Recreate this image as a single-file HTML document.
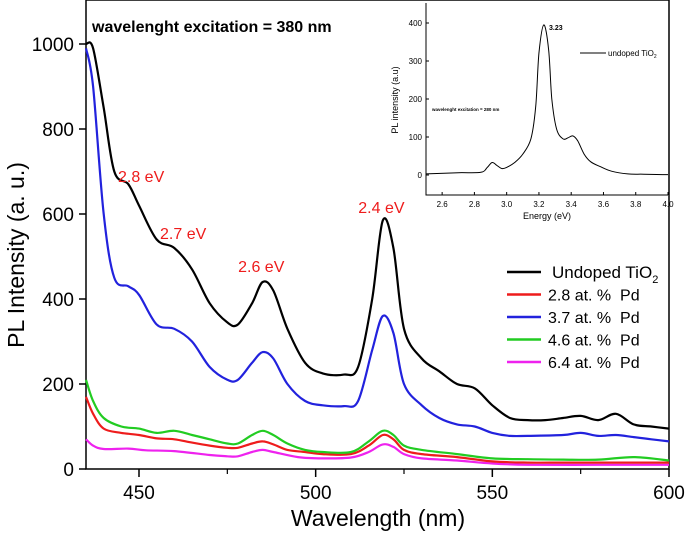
<!DOCTYPE html>
<html><head><meta charset="utf-8">
<style>
html,body{margin:0;padding:0;background:#fff;}
svg{display:block;font-family:"Liberation Sans",Arial,sans-serif;}
text{white-space:pre;}
</style></head>
<body>
<svg id="chart" width="685" height="533" viewBox="0 0 685 533">
<g id="main"></g>
<g id="inset"></g>
<g id="labels"></g>
</svg>
<script>
// ---- main chart data ----
const xTicks=[450,500,550,600];
const yTicks=[0,200,400,600,800,1000];
const seriesNames=["Undoped TiO2","2.8 at. %  Pd","3.7 at. %  Pd","4.6 at. %  Pd","6.4 at. %  Pd"];
const seriesColors=["#000000","#ee1c1c","#2222dd","#22cc22","#ee22ee"];
const blackWl=[435,437,440,443,447,450,455,460,465,470,475,478,482,485,488,492,497,502,508,512,516,519,522,525,530,535,540,545,550,555,560,565,570,575,580,585,590,595,600];
const blackI=[1000,990,850,700,670,620,540,520,470,390,345,340,390,440,420,330,250,225,222,240,400,585,520,330,260,230,200,190,150,120,115,115,120,125,115,130,105,100,95];
const blueWl=[435,437,440,443,447,450,455,460,465,470,475,478,482,485,488,492,497,502,508,512,516,519,522,525,530,535,540,545,550,555,560,570,575,580,585,590,595,600];
const blueI=[990,900,600,450,430,410,340,330,300,240,210,210,250,275,260,200,160,150,148,160,280,360,320,200,150,120,105,100,85,78,78,80,85,78,80,75,70,65];
const greenWl=[435,437,440,445,450,455,460,465,470,475,478,482,485,488,492,497,502,510,515,519,522,525,530,540,550,560,570,580,590,600];
const greenI=[210,160,120,100,95,85,90,80,70,60,60,80,90,80,60,45,40,40,65,90,80,55,45,35,25,23,22,22,28,20];
const redWl=[435,437,440,445,450,455,460,465,470,475,478,482,485,488,492,497,502,510,515,519,522,525,530,540,550,560,570,580,590,600];
const redI=[170,130,95,85,80,72,70,62,55,50,50,60,65,58,45,40,35,35,55,80,70,45,35,28,18,15,15,15,15,15];
const magWl=[435,437,440,447,452,460,470,475,478,482,485,488,495,502,510,515,519,522,525,530,540,550,560,580,600];
const magI=[70,55,47,48,44,42,33,30,30,40,45,40,28,25,27,40,58,52,35,25,20,13,10,10,10];
const peakLabels=["2.8 eV","2.7 eV","2.6 eV","2.4 eV"];
const peakWl=[450.6,462.5,484.6,518.6];
const peakY=[675,541,463,602];
// ---- inset data ----
const insetXTicks=[2.6,2.8,3.0,3.2,3.4,3.6,3.8,4.0];
const insetYTicks=[0,100,200,300,400];
const insetE=[2.5,2.7,2.84,2.88,2.91,2.94,2.97,3.0,3.05,3.1,3.15,3.18,3.2,3.23,3.26,3.28,3.31,3.35,3.38,3.41,3.44,3.48,3.52,3.58,3.65,3.75,3.85,4.0];
const insetI=[3,6,7,20,33,25,17,20,33,55,95,180,320,395,330,200,120,95,98,103,90,55,35,22,10,3,2,1];

const NS="http://www.w3.org/2000/svg";
function mk(parent,tag,attrs,text){const e=document.createElementNS(NS,tag);for(const k in attrs)e.setAttribute(k,attrs[k]);if(text!==undefined)e.textContent=text;parent.appendChild(e);return e;}
function smooth(pts){let d="M"+pts[0][0].toFixed(1)+","+pts[0][1].toFixed(1);for(let i=0;i<pts.length-1;i++){const p0=pts[i-1]||pts[i],p1=pts[i],p2=pts[i+1],p3=pts[i+2]||p2;const c1x=p1[0]+(p2[0]-p0[0])/6,c1y=p1[1]+(p2[1]-p0[1])/6,c2x=p2[0]-(p3[0]-p1[0])/6,c2y=p2[1]-(p3[1]-p1[1])/6;d+="C"+c1x.toFixed(1)+","+c1y.toFixed(1)+" "+c2x.toFixed(1)+","+c2y.toFixed(1)+" "+p2[0].toFixed(1)+","+p2[1].toFixed(1);}return d;}

// main axes
const X0=86,X1=669,Y0=469,Y1=44;
const xs=v=>X0+(v-435)/(600-435)*(X1-X0);
const ys=v=>Y0-(v/1000)*(Y0-Y1);
const g=document.getElementById("main");
const frame=mk(g,"rect",{x:X0,y:0,width:X1-X0,height:Y0,fill:"none",stroke:"#000","stroke-width":1.5});

xTicks.forEach(t=>{const x=xs(t);mk(g,"line",{x1:x,y1:Y0,x2:x,y2:Y0+8,stroke:"#000","stroke-width":1.5});
 const lb=mk(g,"text",{x:x,y:Y0+30,"font-size":19,"text-anchor":"middle"},t);
 });
[475,525,575].forEach(t=>{const x=xs(t);mk(g,"line",{x1:x,y1:Y0,x2:x,y2:Y0+5,stroke:"#000","stroke-width":1.2});});
yTicks.forEach(t=>{const y=ys(t);mk(g,"line",{x1:X0-7,y1:y,x2:X0,y2:y,stroke:"#000","stroke-width":1.5});
 const lb=mk(g,"text",{x:X0-12,y:y+7,"font-size":19,"text-anchor":"end"},t);
 });
const xt=mk(g,"text",{x:378,y:526,"font-size":23,"text-anchor":"middle"},"Wavelength (nm)");

const yt=mk(g,"text",{x:24,y:255,"font-size":23,"text-anchor":"middle",transform:"rotate(-90 24 255)"},"PL Intensity (a. u.)");

const tt=mk(g,"text",{x:92,y:32,"font-size":16,"font-weight":"bold"},"wavelenght excitation = 380 nm");


const allWl=[blackWl,redWl,blueWl,greenWl,magWl],allI=[blackI,redI,blueI,greenI,magI];
const order=[4,1,3,2,0];
order.forEach(k=>{const pts=allWl[k].map((w,i)=>[xs(w),ys(allI[k][i])]);
 const p=mk(g,"path",{d:smooth(pts),fill:"none",stroke:seriesColors[k],"stroke-width":2.2});
 });
// legend
seriesNames.forEach((n,i)=>{const y=272+i*22.5;
 mk(g,"line",{x1:507,y1:y,x2:541,y2:y,stroke:seriesColors[i],"stroke-width":2.5});
 const t=mk(g,"text",{x:i==0?552:548,y:y+6,"font-size":i==0?17:16},"");
 if(i==0){t.textContent="Undoped TiO";mk(t,"tspan",{"font-size":11,dy:5},"2");}else t.textContent=n;
 });

// inset
const ig=document.getElementById("inset");
const iX0=426,iX1=668,iY0=195,iY1=3;
const ixs=v=>iX0+(v-2.5)/1.5*(iX1-iX0);
const iys=v=>175-v*(175-23)/400;
mk(ig,"polyline",{points:`${iX0},${iY1} ${iX0},${iY0} ${iX1},${iY0}`,fill:"none",stroke:"#000","stroke-width":1});
insetXTicks.forEach(t=>{const x=ixs(t);mk(ig,"line",{x1:x,y1:iY0,x2:x,y2:iY0-3,stroke:"#000"});
 const lb=mk(ig,"text",{x:x,y:iY0+12,"font-size":8,"text-anchor":"middle"},t.toFixed(1));
 });
insetYTicks.forEach(t=>{const y=iys(t);mk(ig,"line",{x1:iX0,y1:y,x2:iX0+3,y2:y,stroke:"#000"});
 const lb=mk(ig,"text",{x:iX0-4,y:y+3,"font-size":8,"text-anchor":"end"},t);
 });
const ixt=mk(ig,"text",{x:547,y:219,"font-size":9,"text-anchor":"middle"},"Energy (eV)");

const iyt=mk(ig,"text",{x:398,y:100,"font-size":9,"text-anchor":"middle",transform:"rotate(-90 398 100)"},"PL intensity (a.u)");

const ipts=insetE.map((e,i)=>[ixs(e),iys(insetI[i])]);
const ip=mk(ig,"path",{d:smooth(ipts),fill:"none",stroke:"#000","stroke-width":1});

const pk=mk(ig,"text",{x:549,y:30,"font-size":7,"font-weight":"bold"},"3.23");

mk(ig,"line",{x1:580,y1:53,x2:606,y2:53,stroke:"#000"});
const il=mk(ig,"text",{x:608,y:56,"font-size":8},"undoped TiO");mk(il,"tspan",{"font-size":5,dy:2},"2");

const ie=mk(ig,"text",{x:432,y:111,"font-size":4.5,"font-weight":"bold"},"wavelenght excitation = 280 nm");


// peak labels drawn on top
const lg=document.getElementById("labels");
peakLabels.forEach((s,i)=>{const lb=mk(lg,"text",{x:xs(peakWl[i]),y:ys(peakY[i]),"font-size":16,fill:"#ee1c1c","text-anchor":"middle"},s);
 });
</script>
</body></html>
